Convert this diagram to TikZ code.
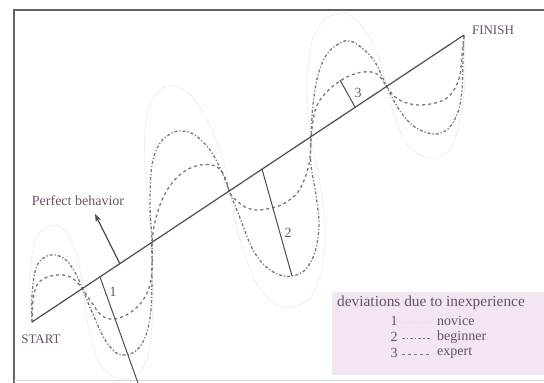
\documentclass[tikz,border=0pt]{standalone}
\usepackage{fontspec}
\setmainfont{Liberation Serif}
\usetikzlibrary{arrows.meta}
\definecolor{textcol}{RGB}{105,80,105}
\definecolor{legfill}{RGB}{241,230,241}
\definecolor{curvecol}{RGB}{120,120,125}
\definecolor{novcol}{RGB}{222,222,226}
\definecolor{framecol}{RGB}{100,100,100}
\definecolor{botcol}{RGB}{205,220,225}
\begin{document}
\begin{tikzpicture}[x=1pt,y=-1pt,
  lbl/.style={text=textcol, font=\fontsize{14}{16}\selectfont, inner sep=0pt},
  mainline/.style={draw=black!70, line width=1.2pt},
  novice/.style={draw=novcol, line width=0.9pt, dash pattern=on 1pt off 1.5pt},
  beginner/.style={draw=curvecol, line width=1.3pt, dash pattern=on 3pt off 2pt on 1.2pt off 2pt},
  expert/.style={draw=curvecol, line width=1.3pt, dash pattern=on 3pt off 3pt},
  devline/.style={draw=black!70, line width=1pt},
]
\useasboundingbox (0,0) rectangle (544,383);
% frame
\draw[framecol, line width=1.8pt] (14,383) -- (14,10) -- (544,10);
\draw[botcol, line width=0.8pt] (14,380) -- (544,380);

% legend box
\node (legend) [fill=legfill, anchor=north west, minimum width=212pt, minimum height=83pt, inner sep=0pt] at (332,292) {};

% novice curve
\draw[novice] plot[smooth, tension=0.6] coordinates {
(32,322) (30,285) (34,245) (45,228) (58,226) (70,238) (78,260) (83,290) (88,325) (98,360) (112,376) (127,379) (142,370) (150,345) (153,300) (152,242) (146,180) (145,130) (152,100) (165,87) (180,88) (195,100) (212,130) (223,160) (230,193) (240,240) (255,280) (272,302) (290,307) (310,298) (322,270) (325,230) (320,185) (311,139) (307,90) (310,50) (320,25) (335,14) (350,15) (365,30) (378,55) (387,87) (395,118) (408,145) (422,156) (436,158) (450,150) (460,120) (465,80) (464,35)};

% beginner curve
\draw[beginner] plot[smooth, tension=0.6] coordinates {
(32,322) (32,295) (36,268) (45,257) (55,255) (66,260) (76,274) (83,290) (92,312) (104,338) (115,352) (125,355) (137,350) (146,335) (151,310) (152,275) (152,242) (150,205) (152,165) (160,143) (172,133) (182,131) (195,135) (210,150) (221,170) (230,193) (240,218) (252,248) (265,266) (280,275) (292,276) (305,270) (315,252) (319,225) (316,195) (311,165) (311,139) (313,105) (318,75) (327,54) (340,43) (350,41) (362,48) (375,62) (387,87) (398,108) (412,125) (425,132) (437,134) (449,128) (458,112) (462,90) (463,60) (464,35)};

% expert curve
\draw[expert] plot[smooth, tension=0.6] coordinates {
(32,322) (33,300) (37,285) (45,278) (57,275) (68,276) (77,282) (83,290) (92,303) (100,314) (110,319) (122,317) (135,309) (145,297) (151,280) (152,260) (152,242) (155,222) (162,200) (172,183) (185,171) (200,165) (215,166) (224,175) (230,193) (237,201) (247,208) (258,210) (272,208) (285,203) (298,192) (306,175) (310,158) (311,139) (314,115) (320,100) (332,87) (347,77) (363,72) (377,74) (387,87) (395,97) (407,103) (420,105) (435,103) (447,98) (455,88) (460,75) (462,55) (464,35)};

% perfect behaviour line
\coordinate (S) at (32,322);
\coordinate (F) at (464,35);
\draw[mainline] (S) -- (F);

% deviation markers
\coordinate (d1a) at (100,277);
\coordinate (d1b) at (138,383);
\coordinate (d2a) at (262,169);
\coordinate (d2b) at (292,276);
\coordinate (d3a) at (355,107);
\coordinate (d3b) at (340,80);
\draw[devline] (d1a) -- (d1b);
\draw[devline] (d2a) -- (d2b);
\draw[devline] (d3a) -- (d3b);
\node[lbl] (n1) at (113,292) {1};
\node[lbl] (n2) at (288,233) {2};
\node[lbl] (n3) at (358,93) {3};

% arrow
\coordinate (pb) at (120,264);
\coordinate (pbt) at (95,214);
\draw[mainline, -{Stealth[length=8pt,width=6pt]}] (pb) -- (pbt);

% labels
\node[lbl] (perfect) at (78,201) {Perfect behavior};
\node[lbl, font=\fontsize{13}{15}\selectfont] (start) at (41,339) {START};
\node[lbl, font=\fontsize{13}{15}\selectfont] (finish) at (493,30) {FINISH};

% legend contents
\node[lbl, font=\fontsize{15.4}{17}\selectfont] (head) at (431,303) {deviations due to inexperience};
\node[lbl] (l1n) at (394,321) {1};
\node[lbl] (l2n) at (394,337) {2};
\node[lbl] (l3n) at (394,353) {3};
\coordinate (s1a) at (402,322); \coordinate (s1b) at (430,322);
\coordinate (s2a) at (402,338); \coordinate (s2b) at (430,338);
\coordinate (s3a) at (402,354); \coordinate (s3b) at (430,354);
\draw[novice] (s1a) -- (s1b);
\draw[beginner, line width=0.9pt] (s2a) -- (s2b);
\draw[expert, line width=0.9pt] (s3a) -- (s3b);
\node[lbl, anchor=west] (l1t) at (437,321) {novice};
\node[lbl, anchor=west] (l2t) at (437,337) {beginner};
\node[lbl, anchor=west] (l3t) at (437,353) {expert};
\end{tikzpicture}
\end{document}
